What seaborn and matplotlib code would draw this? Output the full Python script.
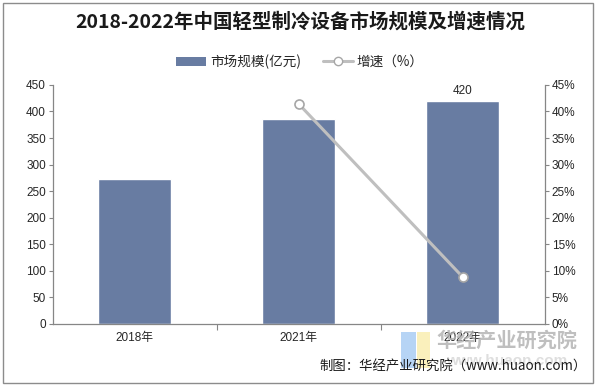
import matplotlib
matplotlib.use("Agg")
import matplotlib.pyplot as plt
import seaborn as sns
import pandas as pd
from matplotlib.patches import Rectangle
from matplotlib.lines import Line2D
from matplotlib.patches import Patch

categories = ["2018年", "2021年", "2022年"]
market_size = [273, 386, 420]
growth_years = ["2021年", "2022年"]
growth_rate = [41.4, 8.8]
left_ticks = [0, 50, 100, 150, 200, 250, 300, 350, 400, 450]
right_ticks = [0, 5, 10, 15, 20, 25, 30, 35, 40, 45]

sns.set_theme(style="white")
plt.rcParams['font.family'] = ['Liberation Sans', 'Noto Sans CJK SC', 'DejaVu Sans']

BAR = "#687CA2"
LINE = "#BFBFBF"
AX = "#868686"
TXT = "#262626"

fig = plt.figure(figsize=(6.0, 3.86), dpi=100)
ax = fig.add_axes([0.088, 0.161, 0.82, 0.619])

df = pd.DataFrame({"cat": categories, "val": market_size})
sns.barplot(data=df, x="cat", y="val", color=BAR, width=0.445, ax=ax, saturation=1)
ax.set_ylim(0, 450)
ax.set_xlim(-0.5, 2.5)
ax.set_yticks(left_ticks)
ax.set_xlabel("")
ax.set_ylabel("")
for s in ["top", "right"]:
    ax.spines[s].set_visible(False)
for s in ["left", "bottom"]:
    ax.spines[s].set_color(AX)
    ax.spines[s].set_linewidth(0.9)
ax.tick_params(axis="y", which="both", direction="out", length=3, width=0.8, color=AX,
               labelsize=8.5, labelcolor=TXT, left=True, pad=2)
ax.tick_params(axis="x", length=0, labelsize=8.5, labelcolor=TXT, pad=6)
ax.set_xticks([0.5, 1.5], minor=True)
ax.tick_params(axis="x", which="minor", length=4, width=0.8, color=AX, direction="out", bottom=True)
ax.text(2, 420 + 8, "420", ha="center", va="bottom", fontsize=8.5, color=TXT)

ax2 = ax.twinx()
pos = {c: i for i, c in enumerate(categories)}
gdf = pd.DataFrame({"x": [pos[c] for c in growth_years], "y": growth_rate})
sns.lineplot(data=gdf, x="x", y="y", ax=ax2, color=LINE, linewidth=2.2,
             marker="o", markersize=6.5, markerfacecolor="white",
             markeredgecolor="#A6A6A6", markeredgewidth=1.2)
ax2.set_ylim(0, 45)
ax2.set_xlim(-0.5, 2.5)
ax2.set_yticks(right_ticks)
ax2.set_yticklabels([f"{t}%" for t in right_ticks])
ax2.set_ylabel("")
ax2.set_xlabel("")
for s in ["top", "left", "bottom"]:
    ax2.spines[s].set_visible(False)
ax2.spines["right"].set_color(AX)
ax2.spines["right"].set_linewidth(0.9)
ax2.tick_params(axis="y", direction="out", length=3, width=0.8, color=AX,
                labelsize=8.5, labelcolor=TXT, right=True, pad=2)

fig.text(0.5, 0.944, "2018-2022年中国轻型制冷设备市场规模及增速情况",
         ha="center", va="center", fontsize=14, fontweight="bold", color="#1a1a1a",
         family=["Noto Sans CJK SC", "DejaVu Sans"])

handles = [Patch(facecolor=BAR, edgecolor="none"),
           Line2D([0], [0], color=LINE, linewidth=2.2, marker="o", markersize=6,
                  markerfacecolor="white", markeredgecolor="#A6A6A6")]
leg = fig.legend(handles, ["市场规模(亿元)", "增速（%）"], loc="center",
                 bbox_to_anchor=(0.5, 0.84), ncol=2, frameon=False,
                 prop={"family": ["Noto Sans CJK SC", "DejaVu Sans"], "size": 9.8},
                 handlelength=2.2, handleheight=0.6, columnspacing=1.6, handletextpad=0.3)
for t in leg.get_texts():
    t.set_color(TXT)

# watermark
fig.patches.append(Rectangle((0.668, 0.046), 0.025, 0.094, transform=fig.transFigure,
                             facecolor="#9EC6F2", edgecolor="none", alpha=0.75))
fig.patches.append(Rectangle((0.695, 0.046), 0.022, 0.094, transform=fig.transFigure,
                             facecolor="#F9EBA6", edgecolor="none", alpha=0.75))
fig.text(0.845, 0.118, "华经产业研究院", ha="center", va="center", fontsize=14.5,
         fontweight="bold", color="#B0B0B0", alpha=0.8,
         family=["Noto Sans CJK SC", "DejaVu Sans"])
fig.text(0.845, 0.066, "www.huaon.com", ha="center", va="center", fontsize=11,
         fontweight="bold", color="#D0D0D0", alpha=0.7)

fig.text(0.978, 0.05, "制图：华经产业研究院（www.huaon.com）", ha="right", va="center",
         fontsize=9.6, color="#1a1a1a", family=["Noto Sans CJK SC", "DejaVu Sans"])

fig.patches.append(Rectangle((0.005, 0.008), 0.984, 0.984, transform=fig.transFigure,
                             fill=False, edgecolor="#8C8C8C", linewidth=1.0))

fig.savefig("out.png", dpi=100)
